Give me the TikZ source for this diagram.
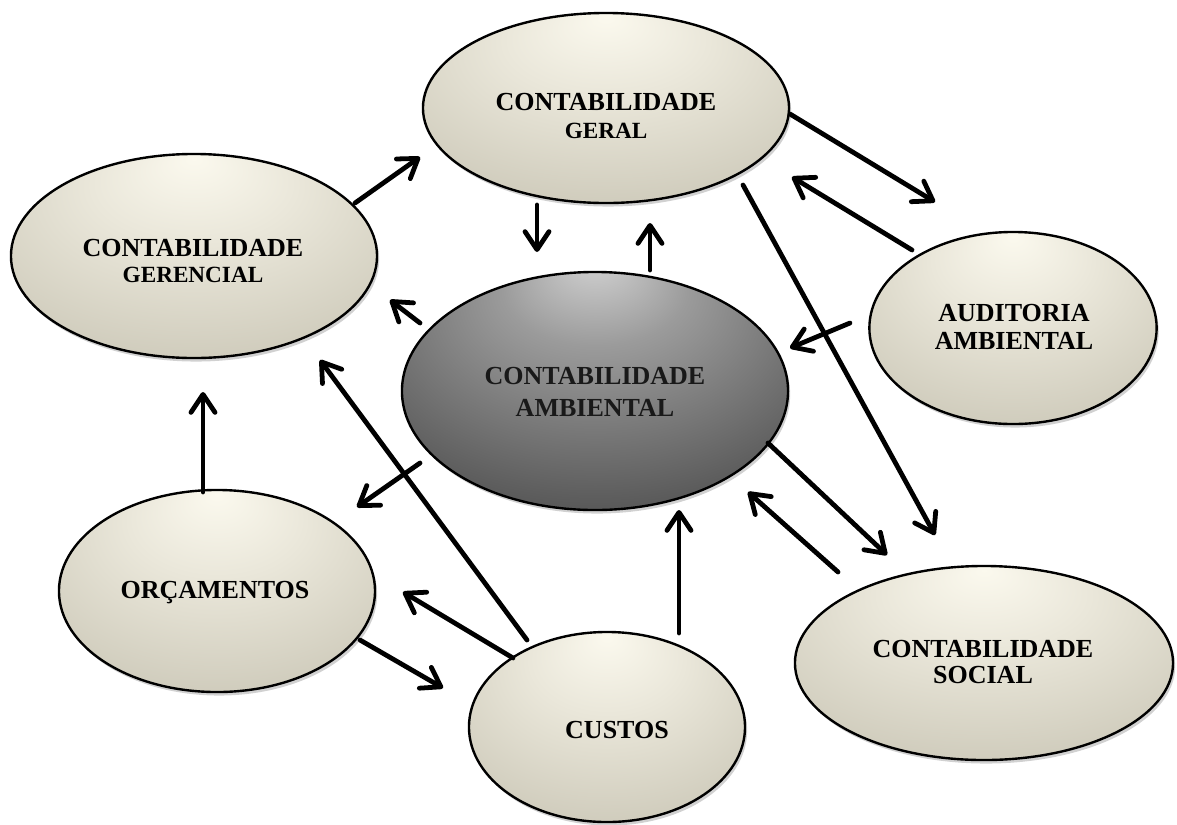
\documentclass[tikz,border=0pt]{standalone}
\usepackage{fontspec}
\setmainfont{Liberation Serif}
\usetikzlibrary{shapes.geometric,arrows.meta,shadows}
\definecolor{bgin}{RGB}{251,249,238}
\definecolor{bgmid}{RGB}{234,231,218}
\definecolor{bgout}{RGB}{194,190,173}
\definecolor{bgedge}{RGB}{160,156,138}
\definecolor{dkin}{RGB}{210,210,210}
\definecolor{dkmid}{RGB}{155,155,155}
\definecolor{dkout}{RGB}{60,60,60}
\definecolor{dkedge}{RGB}{38,38,38}
\pgfdeclareradialshading{beigeshade}{\pgfpoint{0bp}{24bp}}{color(0bp)=(bgin); color(14bp)=(bgmid); color(44bp)=(bgout); color(52bp)=(bgedge)}
\pgfdeclareradialshading{darkshade}{\pgfpoint{0bp}{28bp}}{color(0bp)=(dkin); color(12bp)=(dkmid); color(44bp)=(dkout); color(52bp)=(dkedge)}
\tikzset{
  oval/.style={ellipse, draw=black, line width=1.7pt, inner sep=0pt,
    shading=beigeshade,
    drop shadow={shadow xshift=1.5pt, shadow yshift=-2.5pt, opacity=0.18, fill=black}},
  darkoval/.style={oval, shading=darkshade},
  lbl/.style={align=center, inner sep=0pt, text=black,
    font=\fontsize{18.5}{22}\selectfont\bfseries},
  darklbl/.style={lbl, text=black!90},
  link/.style={line width=3.4pt, line cap=round, black,
    -{Straight Barb[length=4.5mm, width=6mm, line cap=round, line join=round]}}
}
\newcommand{\subline}[1]{{\fontsize{16.5}{18}\selectfont #1}}
\begin{document}
\begin{tikzpicture}[x=0.025cm, y=-0.025cm]
\useasboundingbox (0,0) rectangle (1177,824);
\fill[white] (0,0) rectangle (1177,824);

% ellipses
\node[oval, minimum width=9.15cm, minimum height=4.75cm] (geral) at (606,108) {};
\node[oval, minimum width=9.15cm, minimum height=5.1cm] (gerencial) at (194,256) {};
\node[darkoval, minimum width=9.65cm, minimum height=5.95cm] (ambiental) at (595,391) {};
\node[oval, minimum width=7.18cm, minimum height=4.8cm] (auditoria) at (1013,328) {};
\node[oval, minimum width=9.45cm, minimum height=4.85cm] (social) at (984,663) {};
\node[oval, minimum width=7.9cm, minimum height=5.05cm] (orcamentos) at (217,591) {};
\node[oval, minimum width=6.9cm, minimum height=4.75cm] (custos) at (607,727) {};

% labels
\node[lbl] (geraltxt) at (606,116) {CONTABILIDADE\\[-1.5pt]\subline{GERAL}};
\node[lbl] (gerencialtxt) at (193,261) {CONTABILIDADE\\[-3pt]\subline{GERENCIAL}};
\node[darklbl] (ambientaltxt) at (595,392) {CONTABILIDADE\\[1pt]AMBIENTAL};
\node[lbl] (auditoriatxt) at (1014,327) {AUDITORIA\\[-2pt]AMBIENTAL};
\node[lbl] (socialtxt) at (983,662) {CONTABILIDADE\\[-3pt]SOCIAL};
\node[lbl] (orcamentostxt) at (215,593) {ORÇAMENTOS};
\node[lbl] (custostxt) at (617,730) {CUSTOS};

% connector end points
\coordinate (a1s) at (355,203); \coordinate (a1e) at (420,157);
\coordinate (a2s) at (537,205); \coordinate (a2e) at (537,252);
\coordinate (a3s) at (650,270); \coordinate (a3e) at (650,223);
\coordinate (a4s) at (420,323); \coordinate (a4e) at (390,300);
\coordinate (a5s) at (790,114); \coordinate (a5e) at (935,202);
\coordinate (a6s) at (912,250); \coordinate (a6e) at (792,177);
\coordinate (a7s) at (743,185); \coordinate (a7e) at (935,535);
\coordinate (a8s) at (850,323); \coordinate (a8e) at (790,348);
\coordinate (a9s) at (768,443); \coordinate (a9e) at (887,555);
\coordinate (a10s) at (838,572); \coordinate (a10e) at (748,492);
\coordinate (a11s) at (203,492); \coordinate (a11e) at (203,392);
\coordinate (a12s) at (527,640); \coordinate (a12e) at (320,360);
\coordinate (a13s) at (420,463); \coordinate (a13e) at (357,507);
\coordinate (a14s) at (513,658); \coordinate (a14e) at (403,592);
\coordinate (a15s) at (360,640); \coordinate (a15e) at (443,688);
\coordinate (a16s) at (679,633); \coordinate (a16e) at (679,510);

\foreach \i in {1,...,16} {
  \draw[link] (a\i s) -- (a\i e);
}
\end{tikzpicture}
\end{document}
